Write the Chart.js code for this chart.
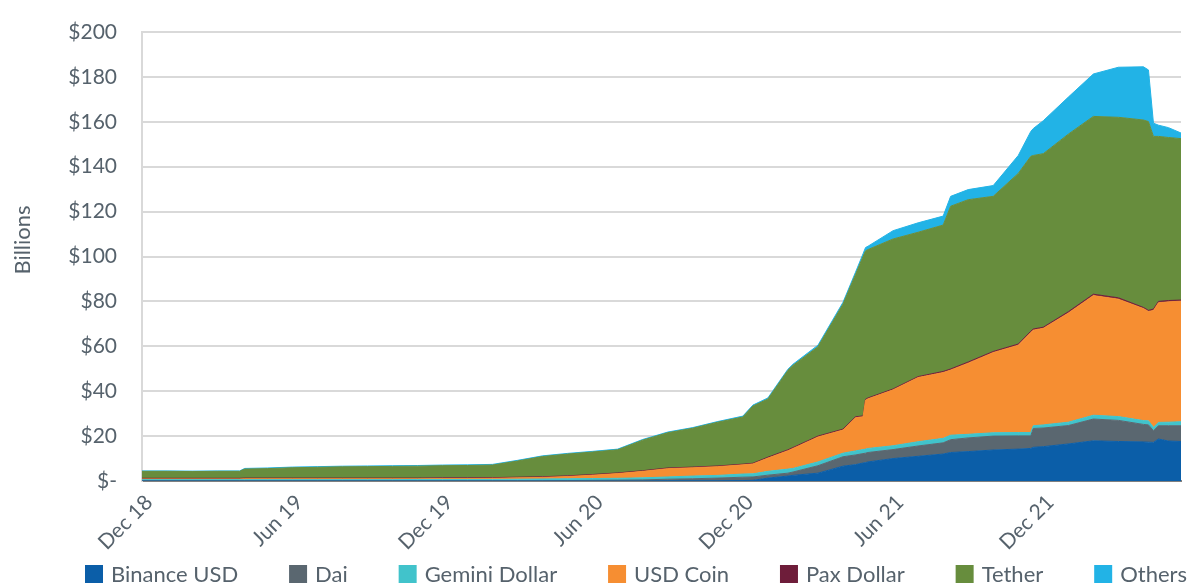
<!DOCTYPE html>
<html>
<head>
<meta charset="utf-8">
<script src="https://cdn.jsdelivr.net/npm/chart.js@4"></script>
<style>
  body { margin: 0; background: #fff; }
  #wrap { width: 1189px; height: 585px; }
</style>
</head>
<body>
<div id="wrap"><canvas id="stableChart"></canvas></div>
<script>
// x position: months after the end of Dec 2018
const months = [0, 1, 2, 3, 3.9, 4.1, 5, 6, 7, 8, 9, 10, 11, 12, 13, 14, 15, 16, 17, 18, 19, 20, 21, 22, 23, 24,
  24.4, 25, 25.8, 26, 27, 28, 28.5, 28.8, 28.9, 29, 30, 31, 32, 32.3, 33, 34, 35, 35.5, 35.6, 36, 37, 38, 39, 40,
  40.2, 40.4, 40.6, 41, 41.5];

// supply in $ billions
const binanceUsd = [0, 0, 0, 0, 0, 0, 0, 0, 0, 0, 0, 0, 0, 0, 0, 0, 0, 0, 0, 0, 0, 0, 0.1, 0.1, 0.1, 0.2,
  0.3, 1.3, 2.2, 2.5, 3.5, 6.6, 7.3, 8.0, 8.2, 8.5, 10.0, 11.0, 12.0, 12.7, 13.1, 13.8, 14.2, 14.5, 15.0, 15.3, 16.5, 17.9, 17.6, 17.4,
  17.3, 17.2, 18.7, 17.8, 17.6];
const dai = [0.1, 0.1, 0.1, 0.1, 0.1, 0.1, 0.1, 0.1, 0.1, 0.1, 0.1, 0.1, 0.1, 0.1, 0.1, 0.1, 0.1, 0.1, 0.2, 0.3, 0.4, 0.5, 0.7, 0.9, 1.2, 1.5,
  1.5, 1.3, 1.3, 1.5, 3.3, 4.2, 4.3, 4.2, 4.2, 4.2, 4.0, 4.6, 5.0, 5.7, 6.1, 6.2, 5.9, 5.6, 8.4, 8.3, 8.2, 9.7, 9.4, 7.8,
  7.7, 5.2, 5.9, 6.8, 7.0];
const geminiDollar = [0.5, 0.5, 0.5, 0.5, 0.5, 0.5, 0.5, 0.5, 0.5, 0.5, 0.5, 0.5, 0.6, 0.6, 0.6, 0.6, 0.7, 0.8, 0.8, 0.8, 0.8, 0.9, 1.0, 1.2, 1.2, 1.4,
  1.4, 1.7, 1.8, 1.6, 1.7, 1.6, 1.8, 1.8, 1.8, 1.8, 1.7, 1.9, 2.0, 2.0, 1.6, 1.5, 1.5, 1.5, 1.2, 1.4, 1.5, 1.7, 1.7, 1.7,
  1.8, 1.5, 1.5, 1.6, 1.8];
const usdCoin = [0.3, 0.3, 0.3, 0.3, 0.3, 0.4, 0.4, 0.4, 0.4, 0.4, 0.4, 0.4, 0.3, 0.4, 0.4, 0.5, 0.6, 0.7, 1.0, 1.5, 2.1, 2.9, 3.7, 3.7, 3.9, 4.1,
  4.4, 5.9, 8.2, 8.9, 11.1, 10.3, 14.8, 14.6, 21.8, 22.1, 24.9, 28.6, 29.3, 29.0, 31.7, 35.7, 38.9, 44.6, 42.6, 43.0, 48.6, 53.3, 52.3, 49.9,
  48.7, 52.1, 53.3, 53.6, 53.7];
const paxDollar = [0.3, 0.3, 0.3, 0.3, 0.3, 0.3, 0.3, 0.3, 0.3, 0.3, 0.3, 0.3, 0.3, 0.3, 0.3, 0.3, 0.3, 0.3, 0.3, 0.3, 0.3, 0.3, 0.3, 0.3, 0.3, 0.3,
  0.3, 0.4, 0.4, 0.4, 0.4, 0.4, 0.4, 0.4, 0.4, 0.4, 0.4, 0.4, 0.5, 0.5, 0.5, 0.5, 0.5, 0.5, 0.5, 0.5, 0.6, 0.6, 0.6, 0.5,
  0.5, 0.6, 0.6, 0.6, 0.5];
const tether = [3.1, 3.1, 3.0, 3.1, 3.1, 4.0, 4.2, 4.6, 4.8, 5.0, 5.1, 5.2, 5.3, 5.4, 5.5, 5.6, 7.2, 9.0, 9.7, 10.0, 10.3, 13.6, 15.7, 17.3, 19.5, 21.0,
  25.5, 25.9, 35.4, 36.6, 39.8, 55.7, 63.4, 71.0, 66.1, 66.1, 66.8, 64.3, 65.2, 72.5, 72.3, 69.1, 76.0, 77.9, 77.3, 77.3, 79.1, 79.2, 80.4, 83.5,
  84.1, 76.9, 73.5, 72.6, 71.9];
const others = [0.2, 0.2, 0.2, 0.2, 0.2, 0.3, 0.3, 0.3, 0.3, 0.3, 0.3, 0.3, 0.3, 0.3, 0.3, 0.3, 0.3, 0.3, 0.3, 0.3, 0.3, 0.3, 0.3, 0.3, 0.3, 0.4,
  0.4, 0.5, 0.5, 0.5, 0.7, 0.8, 1.0, 1.2, 1.5, 1.5, 3.7, 4.2, 4.0, 4.4, 4.5, 4.8, 8.0, 11.1, 12.0, 14.7, 16.5, 18.9, 22.3, 23.7,
  23.0, 5.9, 5.0, 4.4, 2.5];

const xTickLabels = ['Dec 18', 'Jun 19', 'Dec 19', 'Jun 20', 'Dec 20', 'Jun 21', 'Dec 21'];

const textColor = '#56626c';
const fontFamily = 'Lato, "Noto Sans", sans-serif';

const series = [
  { label: 'Binance USD', data: binanceUsd, color: '#0b5ea8' },
  { label: 'Dai', data: dai, color: '#5a6770' },
  { label: 'Gemini Dollar', data: geminiDollar, color: '#41c3cb' },
  { label: 'USD Coin', data: usdCoin, color: '#f68e32' },
  { label: 'Pax Dollar', data: paxDollar, color: '#6e1d3a' },
  { label: 'Tether', data: tether, color: '#678d3d' },
  { label: 'Others', data: others, color: '#22b3e6' }
];

// legend and axis title drawn by hand to sit where the original has them
const extras = {
  id: 'extras',
  afterDraw(chart) {
    const ctx = chart.ctx;
    const sets = chart.data.datasets;
    ctx.save();
    ctx.font = '22px ' + fontFamily;
    ctx.textBaseline = 'alphabetic';
    const widths = sets.map(d => ctx.measureText(d.label).width);
    const box = 18, textGap = 8, startX = 85, endX = 1187;
    const used = widths.reduce((a, w) => a + box + textGap + w, 0);
    const gap = (endX - startX - used) / (sets.length - 1);
    let x = startX;
    sets.forEach((d, i) => {
      ctx.fillStyle = d.backgroundColor;
      ctx.fillRect(x, 565, box, box);
      ctx.fillStyle = textColor;
      ctx.fillText(d.label, x + box + textGap, 582);
      x += box + textGap + widths[i] + gap;
    });

    ctx.translate(30, 240);
    ctx.rotate(-Math.PI / 2);
    ctx.textAlign = 'center';
    ctx.fillText('Billions', 0, 0);
    ctx.restore();
  }
};

new Chart(document.getElementById('stableChart'), {
  type: 'line',
  data: {
    datasets: series.map((s, i) => ({
      label: s.label,
      data: months.map((m, j) => ({ x: m, y: s.data[j] })),
      backgroundColor: s.color,
      borderColor: s.color,
      borderWidth: 1,
      pointRadius: 0,
      tension: 0,
      fill: i === 0 ? 'origin' : '-1'
    }))
  },
  options: {
    responsive: true,
    maintainAspectRatio: false,
    animation: false,
    layout: { padding: { top: 32, right: 8 } },
    plugins: {
      legend: { display: false },
      tooltip: { enabled: false }
    },
    scales: {
      x: {
        type: 'linear',
        min: 0,
        max: 41.5,
        z: 1,
        afterFit: (scale) => { scale.height = 104; },
        afterBuildTicks: (scale) => {
          scale.ticks = xTickLabels.map((l, i) => ({ value: i * 6 }));
        },
        ticks: {
          callback: (v) => xTickLabels[v / 6] || '',
          minRotation: 45,
          maxRotation: 45,
          autoSkip: false,
          padding: 9,
          labelOffset: 7,
          color: textColor,
          font: { family: fontFamily, size: 21 }
        },
        grid: { display: false, drawTicks: false },
        border: { display: true, color: '#808080', width: 2 }
      },
      y: {
        stacked: true,
        min: 0,
        max: 200,
        afterFit: (scale) => {
          scale.width = 142;
          scale.paddingTop = 0;
          scale.paddingBottom = 0;
        },
        ticks: {
          stepSize: 20,
          padding: 25,
          color: textColor,
          font: { family: fontFamily, size: 21 },
          callback: (v) => v === 0 ? '$-' : '$' + v
        },
        grid: { color: '#d9d9d9', lineWidth: 2, drawTicks: false },
        border: { display: true, color: '#d9d9d9', width: 2 }
      }
    }
  },
  plugins: [extras]
});
</script>
</body>
</html>
